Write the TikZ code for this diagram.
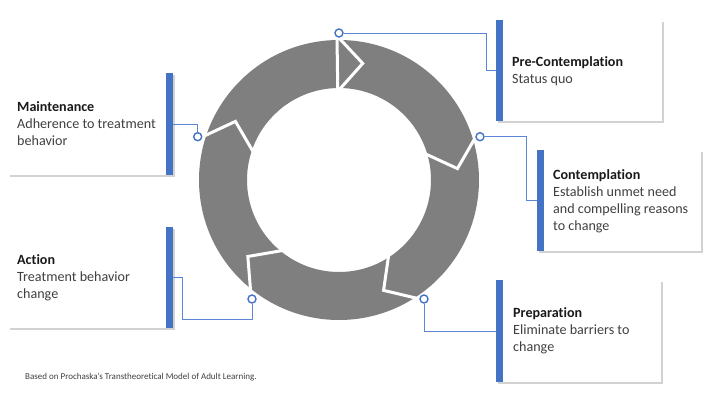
\documentclass[tikz,border=0pt]{standalone}
\usepackage{fontspec}
\setmainfont{Carlito}[Ligatures=NoCommon]
\usetikzlibrary{shadows}
\definecolor{ringgray}{HTML}{7F7F7F}
\definecolor{accent}{HTML}{4472C4}
\definecolor{connblue}{HTML}{5B87D6}
\definecolor{titletext}{HTML}{1A1A1A}
\definecolor{bodytext}{HTML}{404040}
\tikzset{
  cardbox/.style={fill=white, draw=none, inner sep=0pt, anchor=north west,
    drop shadow={shadow xshift=1.5pt, shadow yshift=-1.5pt, fill=black!35, opacity=0.5}},
  accentbar/.style={fill=accent, draw=none, inner sep=0pt, minimum width=7pt, anchor=north west},
  dotmark/.style={circle, draw=accent, fill=white, line width=1.4pt, inner sep=0pt, minimum size=8pt},
  connline/.style={draw=connblue, line width=1pt},
  cardtext/.style={align=left, inner sep=0pt, anchor=west, text=bodytext,
    font=\fontsize{14.1pt}{17pt}\selectfont},
  gapline/.style={white, line width=3pt, line join=miter}
}
\newcommand{\cardtitle}[1]{\textcolor{titletext}{\textbf{#1}}}
\begin{document}
\begin{tikzpicture}[x=1pt,y=-1pt]
\useasboundingbox (0,0) rectangle (716,402);
\fill[white] (0,0) rectangle (716,402);

% ring
\fill[ringgray, even odd rule] (339,180) circle[radius=140] (339,180) circle[radius=92];
\begin{scope}[shift={(339,180)}, yscale=-1]
  \foreach \t in {90,17,303.5,231.5,162}
    \draw[gapline] (\t:142) -- (\t-11.5:119) -- (\t:90);
  \draw[gapline] (90.8:142) -- (90.8:90);
\end{scope}

% boxes
\node[cardbox, minimum width=166pt, minimum height=101pt] (box1) at (496,20) {};
\node[cardbox, minimum width=164pt, minimum height=101pt] (box2) at (537,150) {};
\node[cardbox, minimum width=165pt, minimum height=102pt] (box3) at (496,280) {};
\node[cardbox, minimum width=165pt, minimum height=101pt] (box4) at (8,227) {};
\node[cardbox, minimum width=165pt, minimum height=102pt] (box5) at (8,73) {};

% bars
\node[accentbar, minimum height=101pt] (bar1) at (496,20) {};
\node[accentbar, minimum height=101pt] (bar2) at (537,150) {};
\node[accentbar, minimum height=102pt] (bar3) at (496,280) {};
\node[accentbar, minimum height=101pt] (bar4) at (166,227) {};
\node[accentbar, minimum height=102pt] (bar5) at (166,73) {};

% texts
\node[cardtext] (t1) at (512,71) {\cardtitle{Pre-Contemplation}\\Status quo};
\node[cardtext] (t2) at (553,201) {\cardtitle{Contemplation}\\Establish unmet need\\and compelling reasons\\to change};
\node[cardtext] (t3) at (513,331) {\cardtitle{Preparation}\\Eliminate barriers to\\change};
\node[cardtext] (t4) at (17,278) {\cardtitle{Action}\\Treatment behavior\\change};
\node[cardtext] (t5) at (17,124) {\cardtitle{Maintenance}\\Adherence to treatment\\behavior};

% connectors
\node[dotmark] (d1) at (339,33) {};
\node[dotmark] (d2) at (480,136.7) {};
\node[dotmark] (d3) at (424,299) {};
\node[dotmark] (d4) at (252,299) {};
\node[dotmark] (d5) at (197.7,136.7) {};

\draw[connline] (d1.east) -- (486,33) |- (bar1.west);
\draw[connline] (d2.east) -- (526,136.7) |- (bar2.west);
\draw[connline] (d3.south) |- (bar3.west);
\draw[connline] (d4.south) |- (182.7,319) |- (bar4.east);
\draw[connline] (d5.north) |- (bar5.east);

% footer
\node[anchor=west, inner sep=0pt, text=bodytext, font=\fontsize{9pt}{11pt}\selectfont] (foot) at (25,377)
  {Based on Prochaska’s Transtheoretical Model of Adult Learning.};
\end{tikzpicture}
\end{document}
